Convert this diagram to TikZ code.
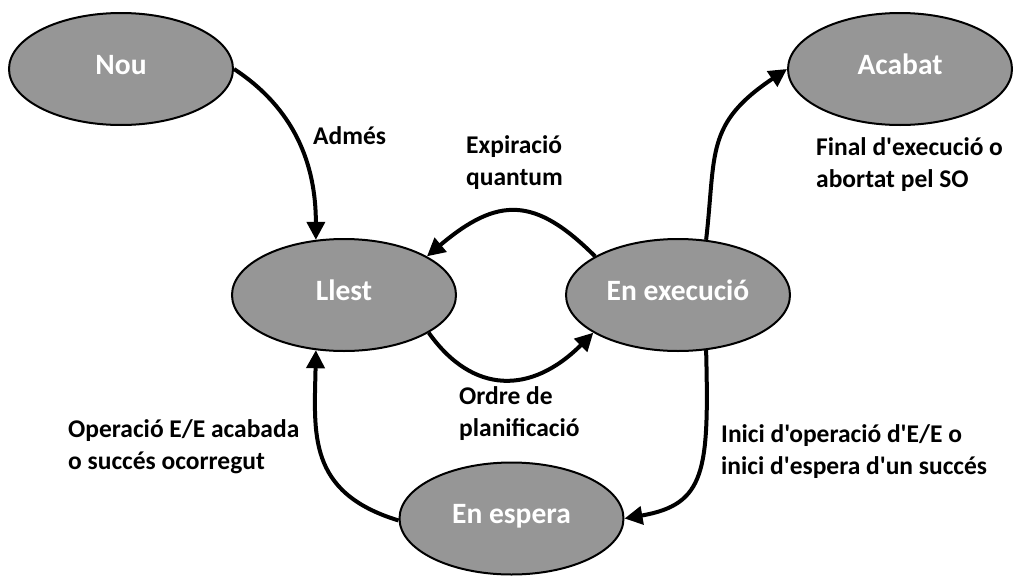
\documentclass[tikz,border=0pt]{standalone}
\usepackage{fontspec}
\setmainfont{Carlito}[Ligatures=TeXOff]
\usetikzlibrary{shapes.geometric,arrows.meta}
\definecolor{stategray}{RGB}{150,150,150}
\begin{document}
\begin{tikzpicture}[x=1pt,y=-1pt,
  state/.style={ellipse,draw=black,line width=2pt,fill=stategray,
    minimum width=224pt,minimum height=112pt,inner sep=0pt,
    text=white,font=\fontsize{29.5}{35}\selectfont\bfseries,
    text height=15pt,text depth=5pt},
  lbl/.style={inner sep=0pt,anchor=base west,align=left,
    font=\fontsize{25.5}{32}\selectfont\bfseries},
  conn/.style={line width=4pt,-{Triangle[length=18pt,width=18pt]}}]
\useasboundingbox (0,0) rectangle (1013,576);

\node[state] (nou)    at (121,69)    {Nou};
\node[state] (acabat) at (900,69)    {Acabat};
\node[state] (llest)  at (344,295)   {Llest};
\node[state] (exec)   at (678,295)   {En execució};
\node[state] (espera) at (511.5,518.5) {En espera};

\draw[conn] (nou.east) .. controls +(61,40) and +(0,-75) .. (llest.117);
\draw[conn] (exec.155) .. controls +(-60,-60) and +(71,-60) .. (llest.25);
\draw[conn] (llest.-24) .. controls +(44,62) and +(-62,62) .. (exec.-156);
\draw[conn] (exec.63) .. controls +(10,-87) and +(-82,55) .. (acabat.west);
\draw[conn] (exec.-63) .. controls +(3,121) and +(81,-14) .. (espera.east);
\draw[conn] (espera.181) .. controls +(-92,-28) and +(-1.5,83) .. (llest.-117);

\node[lbl] (ladm) at (313,144) {Admés};
\node[lbl] (lexp) at (466,185) {Expiració\\quantum};
\node[lbl] (lfin) at (816,187) {Final d'execució o\\abortat pel SO};
\node[lbl] (lord) at (459,436) {Ordre de\\planificació};
\node[lbl] (lope) at (68,469)  {Operació E/E acabada\\o succés ocorregut};
\node[lbl] (lini) at (721,474) {Inici d'operació d'E/E o\\inici d'espera d'un succés};
\end{tikzpicture}
\end{document}
